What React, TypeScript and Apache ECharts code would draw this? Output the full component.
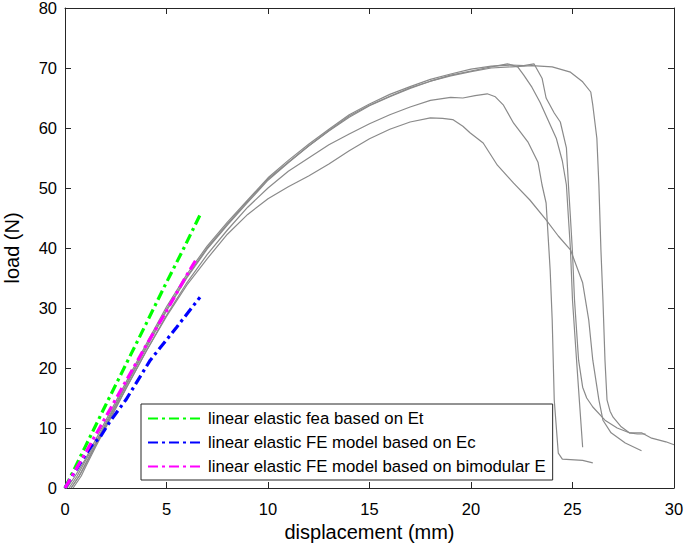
import { useEffect, useRef } from 'react';
import * as echarts from 'echarts';

type Pt = [number, number];

const xRange = { min: 0, max: 30, step: 5 };
const yRange = { min: 0, max: 80, step: 10 };
const xLabel = 'displacement (mm)';
const yLabel = 'load (N)';

const specimenA: Pt[] = [[0.2,0],[0.6,2],[1,4.5],[1.5,7.5],[2,10.8],[3,17.2],[4,23.6],[5,29.8],[6,35.2],[7,40],[8,44],[9,47.8],[10,51.5],[11,54.3],[12,57],[13,59.6],[14,62],[15,63.8],[16,65.3],[17,66.7],[18,67.8],[19,68.8],[20,69.5],[21,70.2],[21.8,70.7],[22.3,70.2],[22.6,68.8],[23.0,66.8],[23.4,64.3],[23.8,61.3],[24.2,58.3],[24.5,54.5],[24.7,50.5],[24.8,45],[24.9,39.7],[25.0,31.3],[25.2,21.3],[25.35,14],[25.5,6.8]];
const specimenB: Pt[] = [[0.1,0],[0.5,2],[1,4.8],[1.5,8],[2,11.2],[3,17.6],[4,24],[5,30.2],[6,35.6],[7,40.3],[8,44.3],[9,48],[10,51.7],[11,54.6],[12,57.3],[13,59.8],[14,62.2],[15,64],[16,65.6],[17,66.9],[18,68.1],[19,69],[20,69.8],[21,70.3],[22,70.5],[22.6,70.4],[23.1,70.7],[23.5,68.3],[23.7,65],[24.1,62.5],[24.4,61],[24.7,56.7],[24.8,50.5],[24.9,45],[25.0,39.2],[25.1,31.3],[25.3,21.3],[25.5,16.8],[25.7,15],[26.0,13.5],[26.6,11.3],[27.2,10],[27.8,9.2],[28.4,9.2],[28.9,8.3],[29.6,7.7],[30,7.2]];
const specimenC: Pt[] = [[0.3,0],[0.7,2],[1,4],[1.5,7.2],[2,10.5],[3,17],[4,23.3],[5,29.5],[6,35],[7,39.8],[8,43.8],[9,47.6],[10,51.3],[11,54.2],[12,57],[13,59.5],[14,61.8],[15,63.7],[16,65.2],[17,66.6],[18,67.8],[19,68.7],[20,69.4],[21,70],[22,70.2],[23,70.4],[24,70.2],[24.9,69.3],[25.5,67.7],[25.9,66],[26,63.8],[26.2,58.3],[26.3,50.5],[26.4,39.7],[26.5,31.3],[26.6,21.3],[26.7,14.7],[26.85,12.8],[27,11.8],[27.4,10.2],[27.8,9.2],[28.2,9],[28.6,9]];
const specimenD: Pt[] = [[0.4,0],[0.8,2],[1,3.4],[1.5,6.8],[2,10],[3,16.5],[4,22.8],[5,28.8],[6,34.2],[7,38.9],[8,43],[9,46.8],[10,50],[11,52.8],[12,55],[13,57.2],[14,59],[15,60.7],[16,62.2],[17,63.5],[18,64.6],[19,65.1],[19.6,65],[20.2,65.4],[20.8,65.7],[21.2,65.2],[21.6,63.8],[22.1,60.8],[22.8,57.7],[23.3,54.3],[23.5,50.5],[23.7,47.5],[23.9,36.3],[24.0,28],[24.1,14.7],[24.3,5.8],[24.5,4.8],[25.1,4.7],[25.5,4.6],[26.0,4.2]];
const specimenE: Pt[] = [[0.3,0],[0.7,2],[1,3.8],[1.5,7],[2,10.2],[3,16.6],[4,22.8],[5,28.6],[6,33.8],[7,38.2],[8,42.3],[9,45.6],[10,48.2],[11,50.2],[12,52],[13,54],[14,56.2],[15,58.2],[16,59.8],[17,61],[18,61.7],[18.6,61.6],[19.1,61.4],[19.6,60.3],[19.95,59.2],[20.6,57.5],[21.3,53.8],[22.1,50.8],[22.9,48],[23.7,44.7],[24.3,42],[24.9,39.7],[25.5,34.2],[25.8,28],[26.0,21.3],[26.3,14.7],[26.5,11.3],[26.9,9.2],[27.6,7.5],[28.4,6.2]];

const feaEt: Pt[] = [[0,0],[1,6.9],[2,13.8],[3,20.6],[4,27.4],[4.9,33.6],[5.8,39.6],[6.65,45.5]];
const feEc: Pt[] = [[0,0],[0.5,2.8],[1,5.5],[1.4,7.5],[1.7,8.3],[2.2,11],[3,14.7],[4.2,21.3],[5.5,26.8],[6.65,31.8]];
const feBimodular: Pt[] = [[0,0],[1,5.8],[2,11.8],[3,17.8],[4,23.8],[5,29.5],[6,35.5],[6.5,38.3]];

const specimens = [specimenA, specimenB, specimenC, specimenD, specimenE];
const models = [
  { name: 'linear elastic fea based on Et', data: feaEt, color: '#00ff00' },
  { name: 'linear elastic FE model based on Ec', data: feEc, color: '#0000ff' },
  { name: 'linear elastic FE model based on bimodular E', data: feBimodular, color: '#ff00ff' },
];

const FONT = "'Liberation Sans', Arial, Helvetica, sans-serif";
const AXIS = '#262626';

function tick() {
  return { show: true, inside: true, length: 6, lineStyle: { color: AXIS, width: 1 } };
}
function line() {
  return { show: true, onZero: false, lineStyle: { color: AXIS, width: 1 } };
}

export default function App() {
  const ref = useRef<HTMLDivElement>(null);
  useEffect(() => {
    if (!ref.current) return;
    const chart = echarts.init(ref.current, undefined, { renderer: 'svg' });
    chart.setOption({
      animation: false,
      backgroundColor: '#fff',
      grid: { left: 65, right: 11, top: 8, bottom: 59, containLabel: false, outerBoundsMode: 'none' },
      xAxis: [
        {
          type: 'value', min: xRange.min, max: xRange.max, interval: xRange.step, position: 'bottom',
          name: xLabel, nameLocation: 'middle', nameGap: 32,
          nameTextStyle: { fontFamily: FONT, fontSize: 20, color: '#000' },
          axisLabel: { fontFamily: FONT, fontSize: 16.5, color: '#000', margin: 12 },
          axisLine: line(), axisTick: tick(), splitLine: { show: false },
        },
        {
          type: 'value', min: xRange.min, max: xRange.max, interval: xRange.step, position: 'top',
          axisLabel: { show: false },
          axisLine: line(), axisTick: tick(), splitLine: { show: false },
        },
      ],
      yAxis: [
        {
          type: 'value', min: yRange.min, max: yRange.max, interval: yRange.step, position: 'left',
          name: yLabel, nameLocation: 'middle', nameGap: 43,
          nameTextStyle: { fontFamily: FONT, fontSize: 20, color: '#000' },
          axisLabel: { fontFamily: FONT, fontSize: 16.5, color: '#000', margin: 8 },
          axisLine: line(), axisTick: tick(), splitLine: { show: false },
        },
        {
          type: 'value', min: yRange.min, max: yRange.max, interval: yRange.step, position: 'right',
          axisLabel: { show: false },
          axisLine: line(), axisTick: tick(), splitLine: { show: false },
        },
      ],
      legend: {
        data: models.map((m) => m.name),
        orient: 'vertical',
        left: 141,
        top: 404,
        itemWidth: 55,
        itemHeight: 14,
        itemGap: 7,
        padding: [6, 7, 5, 6],
        borderColor: AXIS,
        borderWidth: 1,
        borderRadius: 0,
        backgroundColor: '#fff',
        itemStyle: { opacity: 0 },
        textStyle: { fontFamily: FONT, fontSize: 16.8, color: '#000' },
      },
      series: [
        ...specimens.map((d, i) => ({
          name: `specimen ${i + 1}`,
          type: 'line',
          data: d,
          showSymbol: false,
          symbol: 'none',
          lineStyle: { color: '#8a8a8a', width: 1.2 },
          z: 2,
        })),
        ...models.map((m) => ({
          name: m.name,
          type: 'line',
          data: m.data,
          showSymbol: false,
          symbol: 'none',
          itemStyle: { color: m.color },
          lineStyle: { color: m.color, width: 3.2, type: [10, 4, 3, 4], cap: 'butt' },
          z: 3,
        })),
      ],
    });
    return () => chart.dispose();
  }, []);
  return <div ref={ref} style={{ position: 'fixed', left: 0, top: 0, width: 685, height: 547 }} />;
}
